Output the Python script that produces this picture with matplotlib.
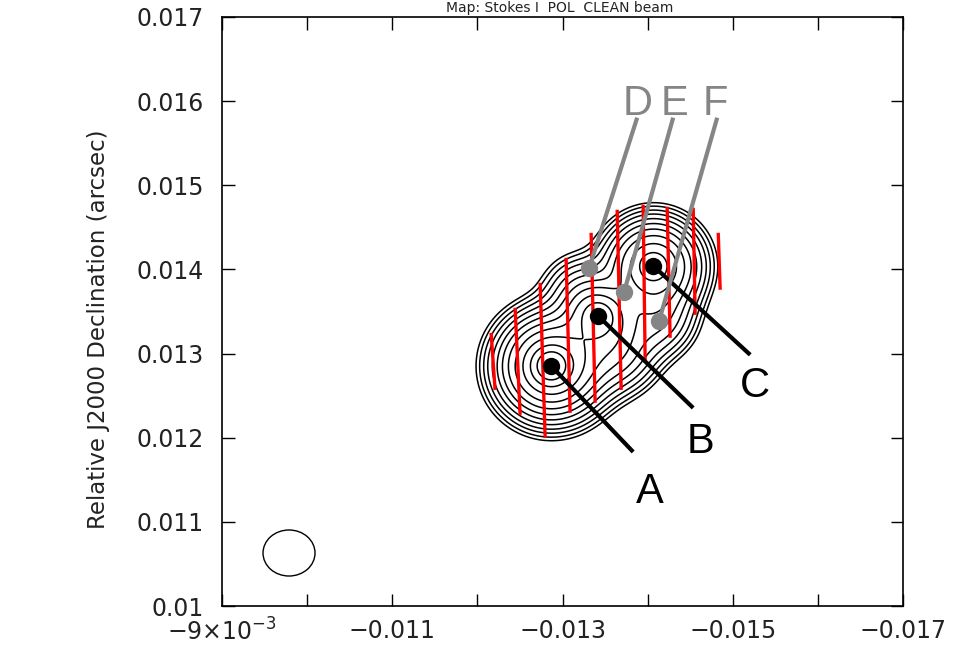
import numpy as np
import matplotlib
matplotlib.use('Agg')
import matplotlib.pyplot as plt
from matplotlib.patches import Ellipse

# --- axis range and ticks (arcsec) ---
x_lim = (-0.009, -0.017)
y_lim = (0.010, 0.017)
x_ticks = [-0.009, -0.010, -0.011, -0.012, -0.013, -0.014, -0.015, -0.016, -0.017]
x_ticklabels = [r'$-9{\times}10^{-3}$', '', '\u22120.011', '', '\u22120.013', '',
                '\u22120.015', '', '\u22120.017']
y_ticks = [0.010, 0.011, 0.012, 0.013, 0.014, 0.015, 0.016, 0.017]
y_ticklabels = ['0.01', '0.011', '0.012', '0.013', '0.014', '0.015', '0.016', '0.017']

# --- Gaussian components of the total-intensity model (x, y, amp, sigma) ---
comp_x = [-0.012866, -0.01287, -0.013418, -0.013418, -0.01407, -0.014065,
          -0.01320, -0.013618, -0.01412]
comp_y = [0.012854, 0.01285, 0.013448, 0.013448, 0.01404, 0.014043,
          0.01375, 0.013044, 0.01340]
comp_amp = [0.50, 0.55, 0.30, 0.12, 0.35, 0.12, 0.07, 0.15, 0.10]
comp_sig = [0.00012, 0.00033, 0.00022, 0.00009, 0.00030, 0.00010,
            0.00025, 0.00028, 0.00025]
levels = [0.015, 0.021, 0.03, 0.042, 0.06, 0.085, 0.12, 0.17, 0.24,
          0.34, 0.48, 0.68, 0.96]

# --- polarisation vector columns: bottom and top ends ---
pol_x0 = [-0.012208, -0.012502, -0.012796, -0.013089, -0.013383,
          -0.013689, -0.013971, -0.014264, -0.014558, -0.014852]
pol_y0 = [0.012568, 0.012271, 0.011998, 0.012295, 0.012414,
          0.012568, 0.012890, 0.013187, 0.013460, 0.013758]
pol_x1 = [-0.012161, -0.012443, -0.012737, -0.013042, -0.013336,
          -0.013642, -0.013947, -0.014229, -0.014535, -0.014829]
pol_y1 = [0.013246, 0.013544, 0.013841, 0.014138, 0.014435,
          0.014709, 0.014768, 0.014745, 0.014733, 0.014435]

# --- labelled knots ---
knot_names = ['A', 'B', 'C', 'D', 'E', 'F']
knot_x = [-0.012866, -0.013418, -0.014065, -0.013313, -0.013724, -0.014135]
knot_y = [0.012854, 0.013448, 0.014043, 0.014019, 0.013734, 0.013389]
lead_x = [-0.013830, -0.014535, -0.015205, -0.013877, -0.014300, -0.014817]
lead_y = [0.011831, 0.012354, 0.012985, 0.015803, 0.015803, 0.015803]
text_x = [-0.014030, -0.014617, -0.015263, -0.013877, -0.014311, -0.014793]
text_y = [0.011225, 0.011819, 0.012485, 0.015838, 0.015838, 0.015838]
knot_col = ['black', 'black', 'black', '#858585', '#858585', '#858585']

# --- restoring beam ---
beam_x, beam_y = -0.009787, 0.01063
beam_w, beam_h = 0.000611, 0.000547

fig = plt.figure(figsize=(9.57, 6.57), dpi=100)
ax = fig.add_axes([0.232, 0.0776, 0.7116, 0.8966])

xg = np.linspace(-0.0112, -0.0162, 500)
yg = np.linspace(0.0112, 0.0158, 460)
X, Y = np.meshgrid(xg, yg)
Z = np.zeros_like(X)
for cx, cy, a, s in zip(comp_x, comp_y, comp_amp, comp_sig):
    Z += a * np.exp(-((X - cx) ** 2 + (Y - cy) ** 2) / (2 * s ** 2))
ax.contour(X, Y, Z, levels=levels, colors='black', linewidths=1.1, zorder=2)

for x0, y0, x1, y1 in zip(pol_x0, pol_y0, pol_x1, pol_y1):
    ax.plot([x0, x1], [y0, y1], color='#ff0000', lw=2.4, solid_capstyle='butt', zorder=3)

for i, name in enumerate(knot_names):
    ax.plot([knot_x[i], lead_x[i]], [knot_y[i], lead_y[i]], color=knot_col[i],
            lw=3.0, solid_capstyle='butt', zorder=4)
    ax.plot(knot_x[i], knot_y[i], 'o', ms=12.5, color=knot_col[i], mec='none', zorder=5)
    ax.text(text_x[i], text_y[i], name, color=knot_col[i], fontsize=30,
            family='Liberation Sans', ha='center', va='baseline', zorder=5)

ax.add_patch(Ellipse((beam_x, beam_y), beam_w, beam_h, fill=False,
                     ec='black', lw=1.0))

ax.set_xlim(*x_lim)
ax.set_ylim(*y_lim)
ax.set_xticks(x_ticks)
ax.set_xticklabels(x_ticklabels)
ax.set_yticks(y_ticks)
ax.set_yticklabels(y_ticklabels)
ax.tick_params(direction='in', length=9, width=1.0, top=True, right=True,
               labelsize=17, labelcolor='#222222', pad=9)
ax.tick_params(axis='y', pad=13)
for sp in ax.spines.values():
    sp.set_linewidth(1.2)

ax.set_ylabel('Relative J2000 Declination (arcsec)', fontsize=16.5,
              color='#222222')
ax.yaxis.set_label_coords(-0.165, 0.47)

fig.text(0.585, 0.998, 'Map: Stokes I  POL  CLEAN beam', ha='center', va='top',
         fontsize=10, color='#222222')

fig.savefig('out.png', dpi=100)
